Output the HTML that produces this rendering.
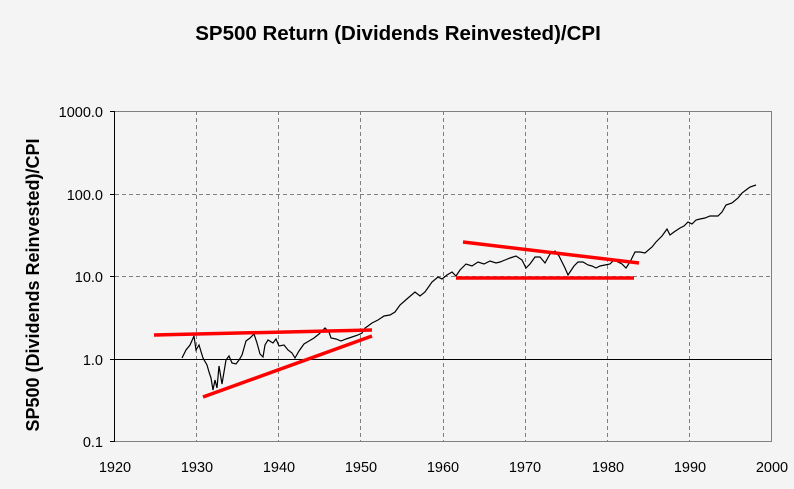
<!DOCTYPE html>
<html><head><style>body{margin:0;background:#f4f4f4}svg{display:block}</style></head><body>
<svg width="794" height="489" xmlns="http://www.w3.org/2000/svg" font-family="Liberation Sans, Arial, sans-serif">
<rect width="794" height="489" fill="#f4f4f4"/>
<text x="398" y="40" font-size="20.5" font-weight="bold" text-anchor="middle">SP500 Return (Dividends Reinvested)/CPI</text>
<text transform="translate(39,285) rotate(-90)" font-size="18" font-weight="bold" text-anchor="middle">SP500 (Dividends Reinvested)/CPI</text>
<g stroke="#808080" stroke-dasharray="4,3" stroke-width="1">
<line x1="196.5" y1="111" x2="196.5" y2="441"/><line x1="278.5" y1="111" x2="278.5" y2="441"/><line x1="360.5" y1="111" x2="360.5" y2="441"/><line x1="443.5" y1="111" x2="443.5" y2="441"/><line x1="525.5" y1="111" x2="525.5" y2="441"/><line x1="607.5" y1="111" x2="607.5" y2="441"/><line x1="689.5" y1="111" x2="689.5" y2="441"/>
<line x1="115" y1="194.5" x2="772" y2="194.5"/><line x1="115" y1="276.5" x2="772" y2="276.5"/>
</g>
<rect x="114.5" y="111.5" width="657" height="330" fill="none" stroke="#808080"/>
<line x1="114.5" y1="111" x2="114.5" y2="442" stroke="#000"/>
<line x1="114" y1="359.5" x2="772" y2="359.5" stroke="#000"/>
<g stroke="#000"><line x1="110" y1="111.5" x2="115" y2="111.5"/><line x1="110" y1="194.5" x2="115" y2="194.5"/><line x1="110" y1="276.5" x2="115" y2="276.5"/><line x1="110" y1="359.5" x2="115" y2="359.5"/><line x1="110" y1="441.5" x2="115" y2="441.5"/></g>
<g font-size="14.5" text-anchor="end"><text x="103" y="117">1000.0</text><text x="103" y="200">100.0</text><text x="103" y="282">10.0</text><text x="103" y="365">1.0</text><text x="103" y="447">0.1</text></g>
<g font-size="14.5" text-anchor="middle"><text x="115" y="472">1920</text><text x="197" y="472">1930</text><text x="279" y="472">1940</text><text x="361" y="472">1950</text><text x="443" y="472">1960</text><text x="525" y="472">1970</text><text x="608" y="472">1980</text><text x="690" y="472">1990</text><text x="772" y="472">2000</text></g>
<polyline fill="none" stroke="#000" stroke-width="1.2" points="182,358 186,350 190,345 194,336 196,350 199,345 203,358 207,365 209,372 211,378 213,390 215,380 217,388 219,366 222,384 224,372 226,360 229,356 232,363 236,364 239,360 242,355 246,341 250,338 254,334 257,343 260,354 263,357 265,345 268,340 273,343 276,339 279,346 284,345 288,350 292,353 295,358 299,351 304,344 309,341 314,338 319,334 325,328 329,332 331,338 336,339 341,341 346,339 352,337 358,335 362,333 365,328 368,326 372,323 378,320 384,316 390,315 395,312 400,305 408,298 415,292 420,296 425,292 432,282 438,277 442,279 447,275 452,272 456,276 460,270 466,264 472,266 478,262 484,264 490,261 496,263 500,262 505,260 510,258 516,256 522,260 526,268 530,264 535,257 540,257 545,263 550,254 555,251 559,256 562,262 565,268 568,275 570,272 574,266 578,262 583,262 588,265 592,266 596,268 600,266 605,265 610,264 614,260 618,262 622,264 626,268 630,262 635,252 640,252 645,253 652,247 656,242 662,236 667,229 670,235 674,232 680,228 684,226 688,222 692,224 696,220 700,219 705,218 710,216 714,216 718,216 722,212 726,205 732,203 738,198 742,193 746,190 750,187 756,185"/>
<g stroke="#ff0000" stroke-width="3.5">
<line x1="154" y1="335" x2="372" y2="330"/>
<line x1="203" y1="397" x2="372" y2="336"/>
<line x1="463" y1="242" x2="639" y2="263"/>
<line x1="456" y1="278" x2="634" y2="278"/>
</g>
</svg>
</body></html>
